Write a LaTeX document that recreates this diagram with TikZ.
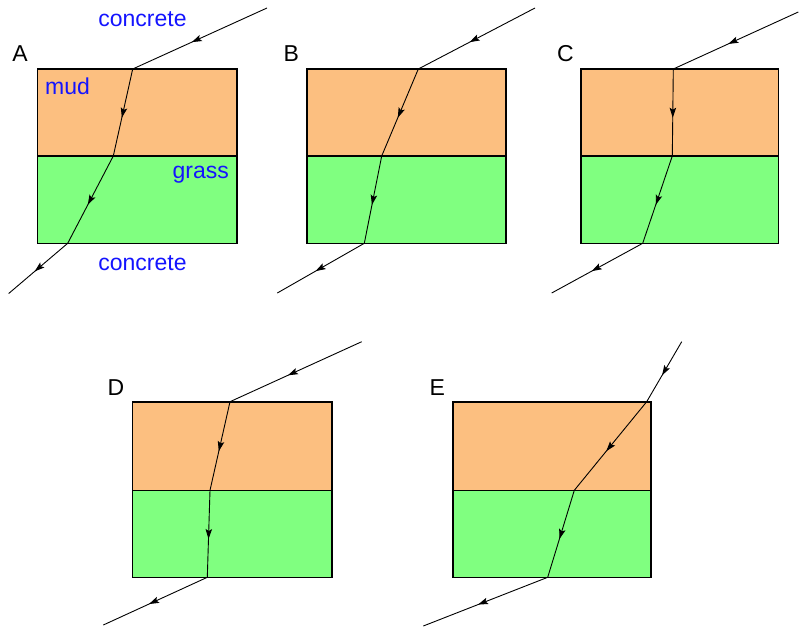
\documentclass[tikz,border=0pt]{standalone}
\usepackage{fontspec}
\setmainfont{Liberation Sans}
\usetikzlibrary{arrows.meta,decorations.markings}
\definecolor{mudc}{RGB}{252,191,128}
\definecolor{grassc}{RGB}{128,255,128}
\definecolor{lblue}{RGB}{20,20,255}
\tikzset{
  mudbox/.style={fill=mudc,draw=black,line width=1.6pt},
  grassbox/.style={fill=grassc,draw=black,line width=1.6pt},
  rayseg/.style={draw=black,line width=0.9pt,postaction={decorate},
    decoration={markings,mark=at position 0.56 with {\arrow{Stealth[length=10pt,width=6.5pt,inset=2pt]}}}},
  medlabel/.style={text=lblue,font=\fontsize{23}{26}\selectfont,inner sep=0pt,anchor=base},
  panlabel/.style={text=black,font=\fontsize{23}{26}\selectfont,inner sep=0pt,anchor=base west}
}
\begin{document}
\begin{tikzpicture}[x=1pt,y=-1pt]
\useasboundingbox (0,0) rectangle (799,628);
% ---------- Panel A
\draw[mudbox] (37.3,69) rectangle (236.7,156);
\draw[grassbox] (37.3,156) rectangle (236.7,243.3);
\coordinate (a0) at (267,8);
\coordinate (a1) at (132.7,69);
\coordinate (a2) at (113.3,156);
\coordinate (a3) at (67.7,243.3);
\coordinate (a4) at (8.7,293.5);
\draw[rayseg] (a0) -- (a1);
\draw[rayseg] (a1) -- (a2);
\draw[rayseg] (a2) -- (a3);
\draw[rayseg] (a3) -- (a4);
\node[panlabel] (lA) at (12.3,61.7) {A};
\node[medlabel] (cTop) at (142.5,26.7) {concrete};
\node[medlabel,anchor=base west] (mud) at (45,95) {mud};
\node[medlabel,anchor=base east] (grass) at (229,178.3) {grass};
\node[medlabel] (cBot) at (142.5,270) {concrete};
% ---------- Panel B
\draw[mudbox] (306.7,69) rectangle (505.7,156);
\draw[grassbox] (306.7,156) rectangle (505.7,243.3);
\coordinate (b0) at (535,8);
\coordinate (b1) at (418.3,69);
\coordinate (b2) at (381.7,156);
\coordinate (b3) at (364.3,243.3);
\coordinate (b4) at (277.3,293);
\draw[rayseg] (b0) -- (b1);
\draw[rayseg] (b1) -- (b2);
\draw[rayseg] (b2) -- (b3);
\draw[rayseg] (b3) -- (b4);
\node[panlabel] (lB) at (283.5,61.7) {B};
% ---------- Panel C
\draw[mudbox] (580.7,69) rectangle (778.3,156);
\draw[grassbox] (580.7,156) rectangle (778.3,243.3);
\coordinate (c0) at (798.3,12);
\coordinate (c1) at (673.3,69);
\coordinate (c2) at (672.3,156);
\coordinate (c3) at (642.7,243.3);
\coordinate (c4) at (551.7,293);
\draw[rayseg] (c0) -- (c1);
\draw[rayseg] (c1) -- (c2);
\draw[rayseg] (c2) -- (c3);
\draw[rayseg] (c3) -- (c4);
\node[panlabel] (lC) at (557,61.7) {C};
% ---------- Panel D
\draw[mudbox] (132.3,401.7) rectangle (331.7,490.3);
\draw[grassbox] (132.3,490.3) rectangle (331.7,577.3);
\coordinate (d0) at (361.7,341.7);
\coordinate (d1) at (230,401.7);
\coordinate (d2) at (210,490.3);
\coordinate (d3) at (207.3,577.3);
\coordinate (d4) at (103.3,625);
\draw[rayseg] (d0) -- (d1);
\draw[rayseg] (d1) -- (d2);
\draw[rayseg] (d2) -- (d3);
\draw[rayseg] (d3) -- (d4);
\node[panlabel] (lD) at (107.5,395) {D};
% ---------- Panel E
\draw[mudbox] (452.7,401.7) rectangle (651,490.3);
\draw[grassbox] (452.7,490.3) rectangle (651,577.3);
\coordinate (e0) at (681.7,341.7);
\coordinate (e1) at (646.7,401.7);
\coordinate (e2) at (574.3,490.3);
\coordinate (e3) at (547.7,577.3);
\coordinate (e4) at (423.3,626);
\draw[rayseg] (e0) -- (e1);
\draw[rayseg] (e1) -- (e2);
\draw[rayseg] (e2) -- (e3);
\draw[rayseg] (e3) -- (e4);
\node[panlabel] (lE) at (429.5,395) {E};
\end{tikzpicture}
\end{document}
